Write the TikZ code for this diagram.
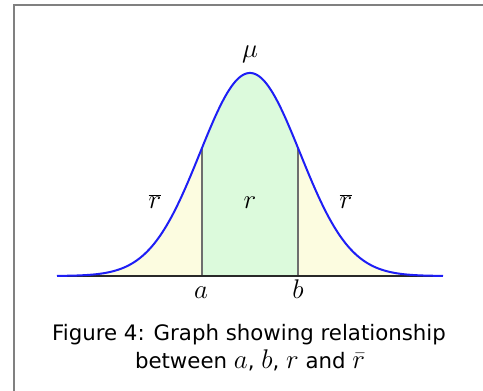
\RequirePackage{fix-cm}
\documentclass[tikz,border=0pt]{standalone}
\usepackage{fontspec}
\setmainfont{DejaVu Sans}
\definecolor{framegray}{RGB}{128,128,128}
\definecolor{curveblue}{RGB}{30,30,245}
\definecolor{greenfill}{RGB}{220,250,220}
\definecolor{yellowfill}{RGB}{252,252,224}
\definecolor{axisdark}{RGB}{40,40,40}
\definecolor{divgray}{RGB}{110,110,110}
\newcommand\capmath[1]{{\fontsize{27}{30}\selectfont$#1$}}
\begin{document}
\begin{tikzpicture}[x=1pt,y=-1pt,
  lbl/.style={inner sep=0pt,anchor=base,font=\fontsize{27}{30}\selectfont},
  captext/.style={inner sep=0pt,anchor=base,font=\fontsize{21.3}{25}\selectfont},
  curve/.style={draw=curveblue,line width=2pt},
  divider/.style={draw=divgray,line width=1.3pt},
  axisline/.style={draw=axisdark,line width=2pt}]
\useasboundingbox (0,0) rectangle (483,391);
\def\g(#1){276-203*exp(-0.5*((#1-250)/50)^2)}
% fills
\fill[yellowfill] (57,276) -- plot[domain=57:202,samples=120] (\x,{\g(\x)}) -- (202,276) -- cycle;
\fill[greenfill] (202,276) -- plot[domain=202:298,samples=120] (\x,{\g(\x)}) -- (298,276) -- cycle;
\fill[yellowfill] (298,276) -- plot[domain=298:443,samples=120] (\x,{\g(\x)}) -- (443,276) -- cycle;
% coordinates
\coordinate (aB) at (202,276);
\coordinate (bB) at (298,276);
\coordinate (aT) at (202,{\g(202)});
\coordinate (bT) at (298,{\g(298)});
\coordinate (axL) at (57,276);
\coordinate (axR) at (443,276);
% dividers
\draw[divider] (aB) -- (aT);
\draw[divider] (bB) -- (bT);
% axis
\draw[axisline] (axL) -- (axR);
% curve
\draw[curve,line join=round] plot[domain=57:443,samples=300] (\x,{\g(\x)});
% frame
\coordinate (fBL) at (14,392);
\coordinate (fTL) at (14,5);
\coordinate (fTR) at (484,5);
\draw[framegray,line width=2pt] (fBL) -- (fTL) -- (fTR);
% labels
\node[lbl] (mu) at (250,57) {$\mu$};
\node[lbl] (rl) at (155,208) {$\overline{r}$};
\node[lbl] (rc) at (250,208) {$r$};
\node[lbl] (rr) at (346,208) {$\overline{r}$};
\node[lbl] (la) at (201,298) {$a$};
\node[lbl] (lb) at (298,298) {$b$};
% caption
\node[captext] (cap1) at (249,340) {Figure 4: Graph showing relationship};
\node[captext] (cap2) at (250,368) {between \capmath{a}, \capmath{b}, \capmath{r} and \capmath{\bar{r}}};
\end{tikzpicture}
\end{document}
